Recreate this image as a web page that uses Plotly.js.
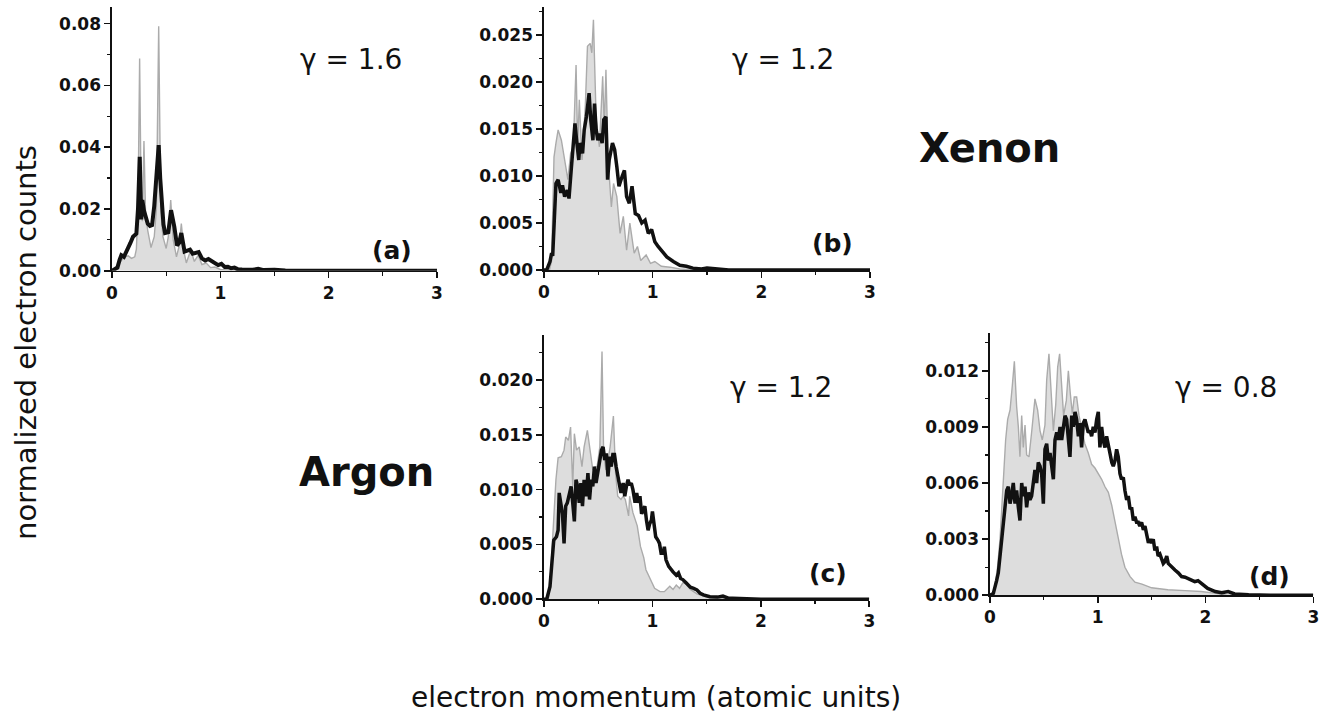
<!DOCTYPE html>
<html>
<head>
<meta charset="utf-8">
<script src="https://cdn.plot.ly/plotly-3.0.1.min.js"></script>
<style>html,body{margin:0;padding:0;background:#fff;}#chart{width:1330px;height:725px;}</style>
</head>
<body>
<div id="chart"></div>
<script>
// ---- data: [momentum (a.u.), normalized counts] ----
const grayA = [[0,0],[0.03,0.0008],[0.06,0.002],[0.09,0.0035],[0.12,0.0045],[0.15,0.0048],[0.18,0.004],[0.21,0.0045],[0.225,0.007],[0.24,0.02],[0.255,0.0687],[0.27,0.02],[0.28,0.016],[0.295,0.042],[0.31,0.018],[0.33,0.013],[0.36,0.0075],[0.39,0.011],[0.41,0.02],[0.431,0.0792],[0.45,0.02],[0.47,0.011],[0.5,0.0072],[0.52,0.011],[0.542,0.0229],[0.565,0.01],[0.595,0.0045],[0.62,0.008],[0.64,0.0153],[0.665,0.006],[0.686,0.0025],[0.71,0.005],[0.727,0.0067],[0.76,0.003],[0.795,0.005],[0.83,0.002],[0.87,0.0025],[0.91,0.001],[0.95,0.0012],[1.0,0.0004],[1.1,0.0002],[1.3,0],[3,0]];
const blackA = [[0,0],[0.025,0.0005],[0.05,0.001],[0.07,0.0035],[0.086,0.005],[0.11,0.0045],[0.13,0.006],[0.148,0.0067],[0.17,0.009],[0.194,0.011],[0.21,0.0115],[0.225,0.012],[0.24,0.02],[0.256,0.0369],[0.27,0.0166],[0.28,0.0229],[0.295,0.0195],[0.31,0.018],[0.33,0.0152],[0.35,0.0145],[0.37,0.0148],[0.39,0.021],[0.41,0.03],[0.431,0.0407],[0.445,0.03],[0.46,0.0218],[0.475,0.015],[0.49,0.0122],[0.52,0.0125],[0.545,0.0196],[0.56,0.017],[0.575,0.0143],[0.6,0.0082],[0.62,0.009],[0.64,0.0122],[0.655,0.008],[0.67,0.0062],[0.695,0.0065],[0.72,0.0068],[0.745,0.0055],[0.77,0.0057],[0.8,0.006],[0.83,0.004],[0.86,0.0033],[0.89,0.0038],[0.92,0.003],[0.95,0.0022],[0.98,0.0018],[1.01,0.0022],[1.04,0.0012],[1.07,0.0013],[1.1,0.0008],[1.13,0.001],[1.16,0.0005],[1.2,0.0004],[1.3,0.0003],[1.35,0.0006],[1.4,0.0002],[1.5,0.0003],[1.6,0.0001],[3,0]];

const grayB = [[0,0],[0.05,0],[0.07,0.001],[0.092,0.012],[0.11,0.0135],[0.13,0.0149],[0.16,0.0138],[0.19,0.0117],[0.22,0.0096],[0.245,0.0124],[0.27,0.0131],[0.295,0.0218],[0.31,0.0131],[0.325,0.0181],[0.35,0.0117],[0.38,0.0174],[0.4,0.0238],[0.425,0.0241],[0.44,0.0231],[0.455,0.0266],[0.48,0.016],[0.51,0.0131],[0.54,0.0206],[0.555,0.015],[0.57,0.0213],[0.59,0.0117],[0.62,0.0067],[0.64,0.0092],[0.67,0.0078],[0.7,0.0039],[0.73,0.0057],[0.76,0.0021],[0.79,0.005],[0.83,0.0018],[0.86,0.0025],[0.89,0.001],[0.94,0.0016],[0.98,0.0007],[1.02,0.0009],[1.08,0.0004],[1.16,0.0003],[1.25,0.0001],[1.4,0],[3,0]];
const blackB = [[0,0],[0.025,0],[0.055,0.0009],[0.07,0.0018],[0.08,0.0015],[0.092,0.0053],[0.11,0.0092],[0.13,0.0096],[0.155,0.0082],[0.17,0.009],[0.19,0.0078],[0.215,0.0085],[0.23,0.0076],[0.25,0.0106],[0.27,0.0131],[0.285,0.0156],[0.3,0.0138],[0.32,0.0117],[0.33,0.0135],[0.355,0.0124],[0.37,0.0149],[0.39,0.0163],[0.415,0.0188],[0.43,0.016],[0.45,0.0138],[0.465,0.0177],[0.48,0.0149],[0.495,0.0138],[0.515,0.0145],[0.535,0.0135],[0.55,0.016],[0.57,0.0163],[0.585,0.0096],[0.6,0.0117],[0.63,0.0135],[0.65,0.0128],[0.67,0.011],[0.69,0.0089],[0.72,0.01],[0.74,0.0106],[0.76,0.0078],[0.785,0.0071],[0.81,0.0089],[0.84,0.006],[0.87,0.0058],[0.9,0.005],[0.93,0.0053],[0.96,0.0039],[0.99,0.0043],[1.02,0.003],[1.05,0.0025],[1.08,0.0021],[1.13,0.0014],[1.19,0.0009],[1.25,0.0005],[1.31,0.0004],[1.37,0.0002],[1.45,0.0001],[1.5,0.0002],[1.6,0.0001],[1.7,0],[3,0]];

const grayC = [[0,0],[0.04,0],[0.055,0.0012],[0.086,0.0069],[0.11,0.0109],[0.13,0.0129],[0.16,0.013],[0.185,0.0136],[0.2,0.0148],[0.225,0.0145],[0.245,0.0157],[0.265,0.0103],[0.28,0.0151],[0.3,0.0136],[0.325,0.0139],[0.35,0.0121],[0.37,0.0139],[0.4,0.0154],[0.425,0.0136],[0.45,0.0118],[0.47,0.0121],[0.49,0.0121],[0.515,0.0139],[0.535,0.0226],[0.55,0.0133],[0.57,0.0118],[0.59,0.0127],[0.61,0.0139],[0.64,0.0167],[0.66,0.0115],[0.68,0.0094],[0.71,0.0091],[0.73,0.0094],[0.75,0.0091],[0.78,0.0076],[0.79,0.0094],[0.82,0.0079],[0.84,0.0073],[0.86,0.0067],[0.89,0.0048],[0.92,0.0038],[0.94,0.0027],[0.98,0.0018],[1.02,0.001],[1.07,0.0007],[1.11,0.0007],[1.16,0.0012],[1.19,0.0009],[1.22,0.0013],[1.25,0.001],[1.28,0.0015],[1.31,0.0014],[1.35,0.0009],[1.41,0.0005],[1.5,0.0002],[1.6,0.0001],[1.8,0],[3,0]];
const blackC = [[0,0],[0.025,0],[0.055,0.00115],[0.08,0.0039],[0.09,0.0054],[0.115,0.0057],[0.13,0.0063],[0.14,0.0097],[0.155,0.0085],[0.17,0.0078],[0.185,0.0051],[0.2,0.0085],[0.215,0.0088],[0.235,0.0097],[0.25,0.0103],[0.265,0.0088],[0.28,0.0071],[0.295,0.0109],[0.31,0.0103],[0.325,0.0088],[0.34,0.0106],[0.355,0.0085],[0.37,0.0109],[0.39,0.0094],[0.405,0.0115],[0.42,0.0091],[0.435,0.0109],[0.45,0.0103],[0.465,0.0121],[0.48,0.0106],[0.495,0.0115],[0.51,0.0121],[0.53,0.0136],[0.545,0.0139],[0.56,0.0127],[0.575,0.0133],[0.59,0.0112],[0.605,0.013],[0.62,0.0121],[0.635,0.0132],[0.65,0.0132],[0.665,0.0121],[0.68,0.0112],[0.7,0.01],[0.71,0.0097],[0.73,0.0106],[0.745,0.0094],[0.76,0.0103],[0.775,0.0109],[0.79,0.0104],[0.805,0.0106],[0.82,0.01],[0.84,0.0088],[0.855,0.0097],[0.87,0.0088],[0.885,0.0094],[0.9,0.0078],[0.915,0.0081],[0.93,0.0085],[0.945,0.0072],[0.96,0.0063],[0.975,0.0069],[0.99,0.0072],[1.0,0.008],[1.02,0.0066],[1.03,0.0057],[1.05,0.0054],[1.065,0.0051],[1.08,0.0042],[1.1,0.0042],[1.11,0.0048],[1.125,0.0036],[1.15,0.003],[1.17,0.0027],[1.19,0.0025],[1.22,0.0022],[1.24,0.0024],[1.26,0.0019],[1.28,0.0018],[1.31,0.0015],[1.35,0.0011],[1.38,0.001],[1.41,0.00085],[1.44,0.00055],[1.47,0.0004],[1.53,0.00024],[1.6,0.0002],[1.65,0.0003],[1.7,0.0001],[1.74,0.0001],[1.85,0.00005],[2.0,0],[3,0]];

const grayD = [[0,0],[0.03,0],[0.046,0.0005],[0.07,0.0015],[0.093,0.003],[0.124,0.0062],[0.145,0.0083],[0.164,0.0094],[0.186,0.0099],[0.207,0.0112],[0.226,0.0125],[0.247,0.0101],[0.263,0.009],[0.278,0.0074],[0.294,0.0096],[0.309,0.0079],[0.325,0.0091],[0.34,0.0075],[0.362,0.0074],[0.386,0.0087],[0.417,0.0105],[0.442,0.0099],[0.464,0.0088],[0.485,0.0083],[0.51,0.0091],[0.526,0.0115],[0.547,0.0129],[0.566,0.011],[0.588,0.0088],[0.61,0.0102],[0.628,0.0122],[0.646,0.0129],[0.665,0.011],[0.683,0.0096],[0.708,0.0104],[0.727,0.012],[0.745,0.0108],[0.764,0.0097],[0.782,0.0106],[0.804,0.0106],[0.826,0.0096],[0.85,0.009],[0.88,0.0081],[0.912,0.0076],[0.943,0.007],[0.974,0.0068],[1.005,0.0065],[1.036,0.0062],[1.067,0.0058],[1.098,0.0055],[1.13,0.0048],[1.16,0.0039],[1.19,0.003],[1.22,0.0022],[1.252,0.0015],[1.3,0.001],[1.345,0.0007],[1.41,0.0006],[1.5,0.0004],[1.65,0.0003],[1.81,0.00025],[1.96,0.0002],[2.1,0.0001],[2.2,0],[3,0]];
const blackD = [[0,0],[0.031,0.0001],[0.062,0.0008],[0.077,0.0012],[0.102,0.0026],[0.124,0.0037],[0.139,0.0047],[0.155,0.0056],[0.17,0.0058],[0.186,0.0049],[0.2,0.0053],[0.216,0.006],[0.232,0.0049],[0.247,0.0056],[0.263,0.0047],[0.278,0.004],[0.294,0.006],[0.309,0.0053],[0.325,0.0058],[0.34,0.0047],[0.356,0.0055],[0.371,0.0051],[0.386,0.0053],[0.402,0.0062],[0.417,0.0067],[0.433,0.006],[0.448,0.0071],[0.464,0.0069],[0.479,0.0065],[0.495,0.0049],[0.51,0.0078],[0.526,0.0081],[0.541,0.0072],[0.557,0.0076],[0.572,0.0069],[0.588,0.0062],[0.603,0.0083],[0.619,0.0087],[0.634,0.0083],[0.65,0.009],[0.665,0.0083],[0.68,0.009],[0.696,0.0096],[0.711,0.0094],[0.727,0.0083],[0.742,0.0074],[0.758,0.0096],[0.773,0.009],[0.789,0.0098],[0.804,0.0094],[0.82,0.0085],[0.835,0.0092],[0.85,0.0079],[0.866,0.0092],[0.881,0.0094],[0.897,0.009],[0.912,0.0087],[0.928,0.0088],[0.943,0.0085],[0.958,0.009],[0.974,0.0087],[0.99,0.0094],[1.005,0.0098],[1.02,0.0079],[1.036,0.009],[1.05,0.0083],[1.067,0.0079],[1.082,0.0085],[1.098,0.0079],[1.113,0.0076],[1.13,0.0071],[1.144,0.0069],[1.16,0.0072],[1.175,0.0078],[1.19,0.0074],[1.206,0.0065],[1.22,0.0062],[1.237,0.0063],[1.252,0.0056],[1.268,0.0051],[1.283,0.0053],[1.3,0.0046],[1.314,0.0047],[1.33,0.004],[1.345,0.0042],[1.36,0.0039],[1.376,0.0039],[1.39,0.0037],[1.407,0.0039],[1.423,0.0035],[1.438,0.0037],[1.453,0.0033],[1.47,0.0028],[1.484,0.003],[1.5,0.0028],[1.515,0.003],[1.53,0.0024],[1.546,0.0026],[1.56,0.0021],[1.577,0.0022],[1.592,0.0019],[1.608,0.0017],[1.623,0.0018],[1.64,0.0021],[1.654,0.0017],[1.685,0.0015],[1.716,0.00135],[1.747,0.0012],[1.778,0.001],[1.81,0.00097],[1.855,0.00086],[1.9,0.00073],[1.93,0.00078],[1.96,0.00064],[1.99,0.00055],[2.02,0.00037],[2.09,0.0002],[2.15,0.00014],[2.21,0.0002],[2.27,0.00007],[2.4,0.00003],[2.6,0],[3,0]];

const panelLabels = ['(a)','(b)','(c)','(d)'];
const gammaLabels = ['γ = 1.6','γ = 1.2','γ = 1.2','γ = 0.8'];
const atomLabels = ['Xenon','Argon'];
const xTitle = 'electron momentum (atomic units)';
const yTitle = 'normalized electron counts';

// ---- build ----
const W = 1330, H = 725;
const px = v => v / W;
const py = v => 1 - v / H;

const panels = [
  {g: grayA, b: blackA, xd:[112,437], yd:[270.7,6.7], ymax:0.0855, dt:0.02, mdt:0.01, fmt:'.2f', bw:4.0},
  {g: grayB, b: blackB, xd:[544,870], yd:[270,6.7], ymax:0.0280, dt:0.005, mdt:0.0025, fmt:'.3f', bw:3.5},
  {g: grayC, b: blackC, xd:[544,869.3], yd:[599.3,335], ymax:0.0241, dt:0.005, mdt:0.0025, fmt:'.3f', bw:3.5},
  {g: grayD, b: blackD, xd:[990,1313.3], yd:[595.3,333.3], ymax:0.0140, dt:0.003, mdt:0.0015, fmt:'.3f', bw:3.5}
];

const tickFont = {family:'DejaVu Sans, Liberation Sans, Arial', size:17, color:'#111', weight:'bold'};
const traces = [];
const layout = {
  width: W, height: H,
  margin: {l:0, r:0, t:0, b:0},
  paper_bgcolor:'#fff', plot_bgcolor:'rgba(0,0,0,0)',
  showlegend:false,
  annotations: []
};

panels.forEach((p, i) => {
  const n = i === 0 ? '' : String(i + 1);
  traces.push({
    x: p.g.map(d => d[0]), y: p.g.map(d => d[1]),
    xaxis:'x'+n, yaxis:'y'+n, type:'scatter', mode:'lines',
    fill:'tozeroy', fillcolor:'#dddddd',
    line:{color:'#ababab', width:1.4}, hoverinfo:'skip'
  });
  traces.push({
    x: p.b.map(d => d[0]), y: p.b.map(d => d[1]),
    xaxis:'x'+n, yaxis:'y'+n, type:'scatter', mode:'lines',
    line:{color:'#111111', width:p.bw}, hoverinfo:'skip'
  });
  layout['xaxis'+n] = {
    domain:[px(p.xd[0]), px(p.xd[1])], anchor:'y'+n,
    range:[0,3], tick0:0, dtick:1, tickformat:'d',
    showline:true, linecolor:'#111', linewidth:1.6,
    ticks:'outside', ticklen:6, tickwidth:1.6, tickcolor:'#111',
    minor:{ticks:'outside', ticklen:3.5, tickwidth:1.2, tickcolor:'#111', dtick:0.5, tick0:0, showgrid:false},
    showgrid:false, zeroline:false, tickfont:tickFont, fixedrange:true
  };
  layout['yaxis'+n] = {
    domain:[py(p.yd[0]), py(p.yd[1])], anchor:'x'+n,
    range:[0,p.ymax], tick0:0, dtick:p.dt, tickformat:p.fmt,
    showline:true, linecolor:'#111', linewidth:1.6,
    ticks:'outside', ticklen:6, tickwidth:1.6, tickcolor:'#111',
    minor:{ticks:'outside', ticklen:3.5, tickwidth:1.2, tickcolor:'#111', dtick:p.mdt, tick0:0, showgrid:false},
    showgrid:false, zeroline:false, tickfont:tickFont, fixedrange:true
  };
});

const gammaPos = [[351,60],[783,60],[781,387],[1226,387]];
gammaLabels.forEach((t, i) => layout.annotations.push({
  text:t, xref:'paper', yref:'paper', x:px(gammaPos[i][0]), y:py(gammaPos[i][1]),
  xanchor:'center', yanchor:'middle', showarrow:false,
  font:{family:'DejaVu Sans, Liberation Sans, Arial', size:28, color:'#111'}
}));
const labelPos = [[392,250],[832,244],[828,573],[1269,576]];
panelLabels.forEach((t, i) => layout.annotations.push({
  text:t, xref:'paper', yref:'paper', x:px(labelPos[i][0]), y:py(labelPos[i][1]),
  xanchor:'center', yanchor:'middle', showarrow:false,
  font:{family:'DejaVu Sans, Liberation Sans, Arial', size:25, color:'#111', weight:'bold'}
}));
const atomPos = [[989,148],[366,472]];
atomLabels.forEach((t, i) => layout.annotations.push({
  text:t, xref:'paper', yref:'paper', x:px(atomPos[i][0]), y:py(atomPos[i][1]),
  xanchor:'center', yanchor:'middle', showarrow:false,
  font:{family:'DejaVu Sans, Liberation Sans, Arial', size:40, color:'#111', weight:'bold'}
}));
layout.annotations.push({
  text:xTitle, xref:'paper', yref:'paper', x:px(656), y:py(697),
  xanchor:'center', yanchor:'middle', showarrow:false,
  font:{family:'DejaVu Sans, Liberation Sans, Arial', size:28, color:'#111'}
});
layout.annotations.push({
  text:yTitle, xref:'paper', yref:'paper', x:px(26), y:py(343), textangle:-90,
  xanchor:'center', yanchor:'middle', showarrow:false,
  font:{family:'DejaVu Sans, Liberation Sans, Arial', size:29, color:'#111'}
});

Plotly.newPlot('chart', traces, layout, {displayModeBar:false, staticPlot:true});
</script>
</body>
</html>
